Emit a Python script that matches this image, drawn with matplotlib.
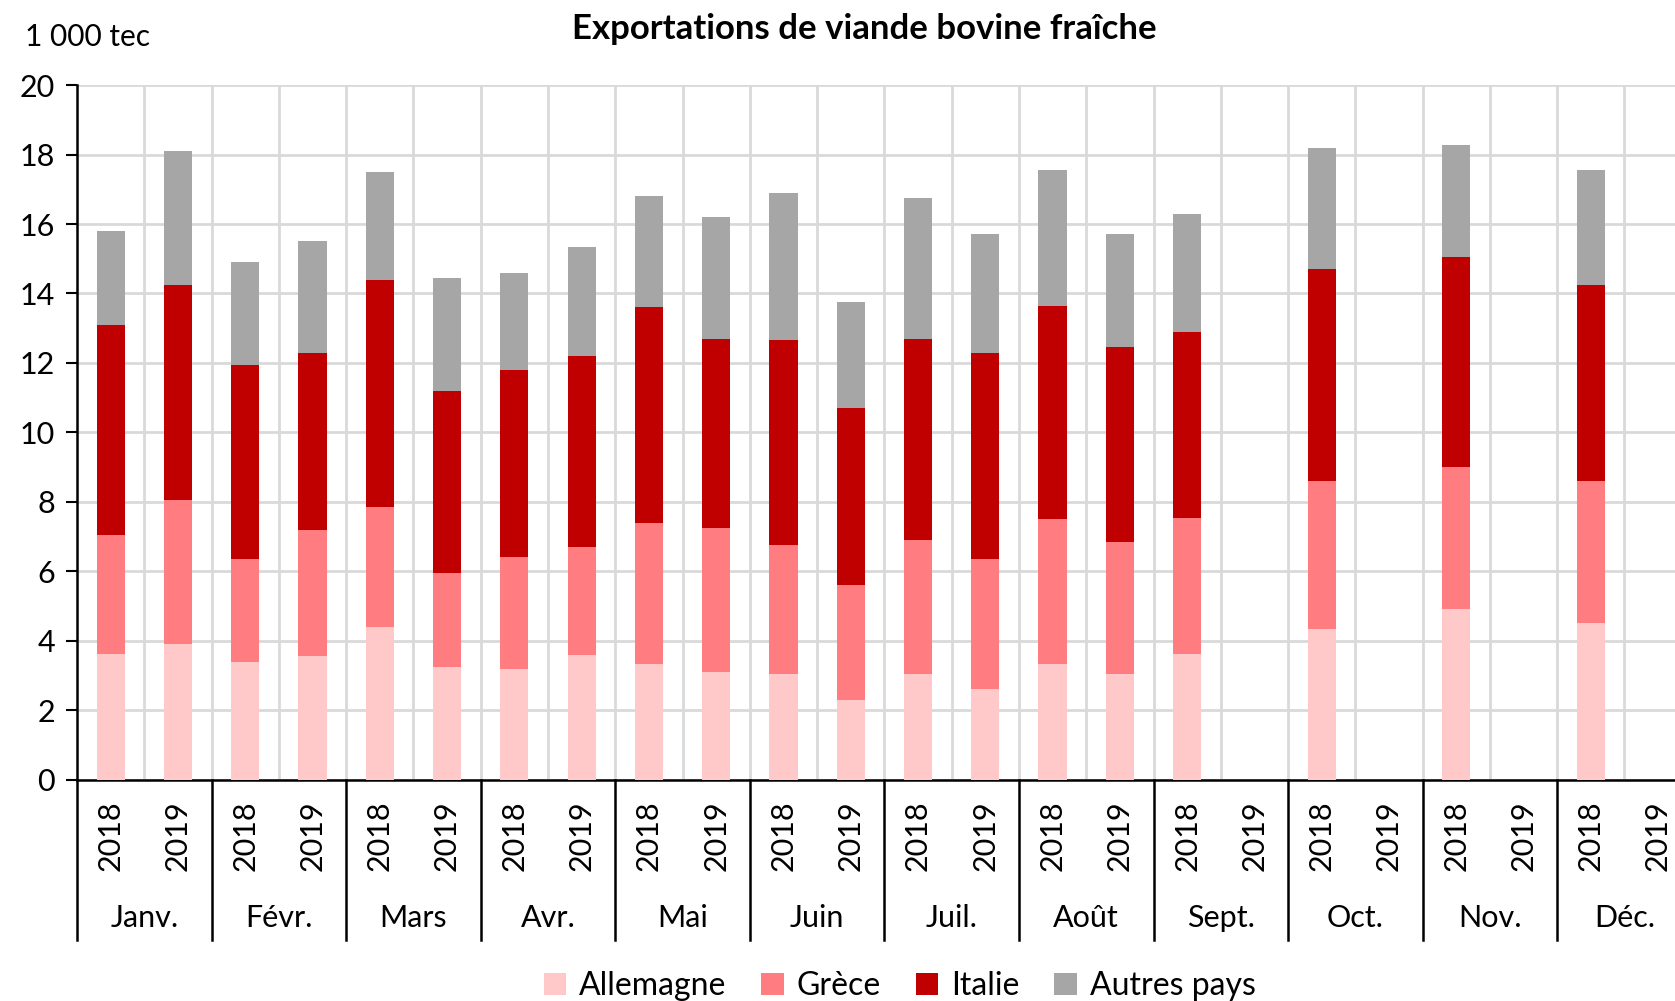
import numpy as np
import matplotlib.pyplot as plt
import matplotlib.transforms as mtransforms

# Exportations de viande bovine fraîche (1 000 tec), 2018 / 2019 par mois
months = ['Janv.', 'Févr.', 'Mars', 'Avr.', 'Mai', 'Juin',
          'Juil.', 'Août', 'Sept.', 'Oct.', 'Nov.', 'Déc.']
years = ['2018', '2019']

nan = np.nan
# cumulative tops, one value per bar (2018, 2019 alternating)
top_allemagne = [3.63, 3.9, 3.4, 3.55, 4.4, 3.25, 3.2, 3.6, 3.32, 3.1, 3.05, 2.3,
                 3.05, 2.6, 3.32, 3.05, 3.62, nan, 4.35, nan, 4.92, nan, 4.5, nan]
top_grece = [7.05, 8.06, 6.35, 7.2, 7.85, 5.95, 6.4, 6.7, 7.4, 7.25, 6.75, 5.6,
             6.9, 6.35, 7.5, 6.85, 7.55, nan, 8.6, nan, 9.0, nan, 8.6, nan]
top_italie = [13.1, 14.25, 11.95, 12.3, 14.4, 11.2, 11.8, 12.2, 13.6, 12.7, 12.65, 10.7,
              12.7, 12.3, 13.65, 12.45, 12.9, nan, 14.7, nan, 15.05, nan, 14.25, nan]
top_total = [15.8, 18.1, 14.9, 15.5, 17.5, 14.45, 14.6, 15.35, 16.8, 16.2, 16.9, 13.75,
             16.75, 15.7, 17.55, 15.7, 16.3, nan, 18.2, nan, 18.28, nan, 17.55, nan]

series = ['Allemagne', 'Grèce', 'Italie', 'Autres pays']
colors = ['#FFC9C9', '#FF7C80', '#C00000', '#A6A6A6']

plt.rcParams['font.family'] = ['Lato', 'DejaVu Sans']

tops = np.array([top_allemagne, top_grece, top_italie, top_total])
bottoms = np.vstack([np.zeros(tops.shape[1]), tops[:-1]])
heights = tops - bottoms

fig = plt.figure(figsize=(16.75, 10.01), dpi=100)
ax = fig.add_axes([0.046, 0.221, 0.964, 0.694])

x = np.arange(len(months) * len(years))
for i in range(len(series)):
    ax.bar(x, np.nan_to_num(heights[i]), bottom=np.nan_to_num(bottoms[i]), width=0.42,
           color=colors[i], label=series[i], zorder=3)

ax.set_xlim(-0.5, len(x) - 0.5)
ax.set_ylim(0, 20)
ax.set_yticks(np.arange(0, 21, 2))
ax.tick_params(axis='y', labelsize=22, length=8, width=1.5, direction='out', pad=8)

ax.set_xticks(x + 0.5, minor=True)
ax.set_xticks([])
ax.grid(axis='y', which='major', color='#D9D9D9', lw=2, zorder=0)
ax.grid(axis='x', which='minor', color='#D9D9D9', lw=2, zorder=0)
ax.tick_params(axis='x', which='minor', length=0)

for s in ['top', 'right']:
    ax.spines[s].set_visible(False)
ax.spines['left'].set_linewidth(1.8)
ax.spines['bottom'].set_linewidth(1.8)

# two-level category axis
trans = mtransforms.blended_transform_factory(ax.transData, ax.transAxes)
for i in x:
    ax.text(i, -0.081, years[i % 2], rotation=90, ha='center', va='center',
            fontsize=22, transform=trans)
for m, name in enumerate(months):
    ax.text(2 * m + 0.5, -0.199, name, ha='center', va='center',
            fontsize=22, transform=trans)
for b in np.arange(0, len(months) + 1) * 2 - 0.5:
    ax.plot([b, b], [0, -0.23], color='black', lw=1.8, transform=trans, clip_on=False)

fig.text(0.516, 0.971, 'Exportations de viande bovine fraîche', ha='center', va='center',
         fontsize=25, fontweight='bold')
fig.text(0.015, 0.963, '1 000 tec', ha='left', va='center', fontsize=21.5)

fig.legend(loc='center', bbox_to_anchor=(0.537, 0.015), ncol=4, frameon=False,
           fontsize=23, handlelength=0.7, handleheight=0.7, handletextpad=0.4,
           columnspacing=1.1)

fig.savefig('out.png', dpi=100)
